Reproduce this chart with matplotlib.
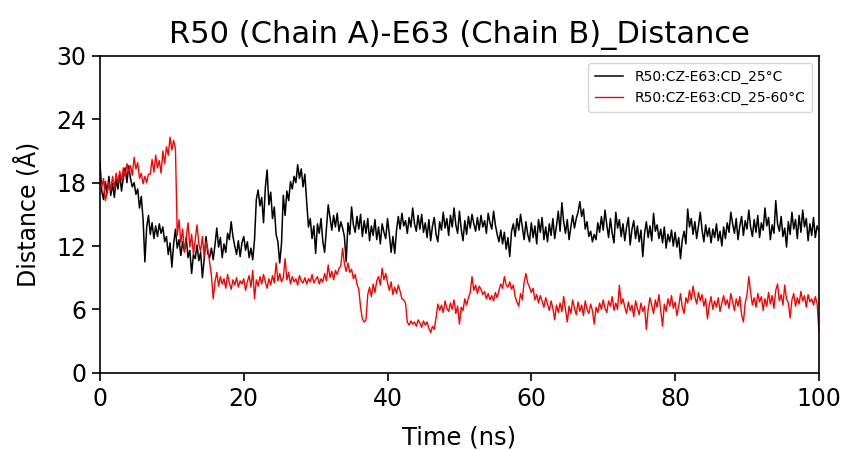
import numpy as np
import matplotlib
matplotlib.use("Agg")
import matplotlib.pyplot as plt

# time axis, one sample every 0.25 ns
time_ns = np.arange(0, 100.01, 0.25)

# R50:CZ - E63:CD distance at 25 C
dist_25 = [
    19.9, 17.2, 16.4, 18.1, 17.0, 18.6, 16.8, 17.9, 16.6, 18.3, 17.4, 18.8, 17.2, 18.5, 19.4, 18.0, 19.6, 18.4, 17.6, 18.0,
    16.9, 17.4, 15.6, 16.7, 14.5, 10.5, 13.8, 14.9, 13.1, 14.2, 12.7, 13.9, 12.9, 14.1, 13.2, 13.8, 12.4, 12.9, 11.2, 12.3,
    10.0, 12.2, 13.6, 11.8, 12.6, 11.1, 12.4, 11.5, 12.8, 10.9, 11.6, 9.4, 11.2, 10.8, 12.1, 10.6, 11.4, 9.0, 10.8, 12.9,
    11.3, 10.9, 11.8, 10.7, 12.1, 13.7, 11.9, 12.8, 10.9, 12.2, 11.4, 13.2, 12.6, 14.3, 12.9, 12.0, 11.2, 12.5, 11.0, 12.3,
    12.9, 11.6, 12.4, 10.9, 11.8, 10.7, 12.6, 16.4, 17.3, 15.8, 16.6, 14.2, 17.5, 19.2, 15.9, 17.1, 14.6, 15.7, 13.1, 12.4,
    10.4, 12.2, 16.8, 14.9, 17.2, 16.3, 18.1, 17.4, 18.6, 18.0, 19.7, 18.4, 19.3, 17.6, 18.8, 16.2, 13.8, 14.6, 12.7, 13.9,
    11.3, 14.1, 13.2, 14.6, 12.4, 11.4, 13.6, 15.9, 14.7, 13.5, 14.9, 13.8, 15.1, 13.4, 14.3, 13.7, 12.9, 10.5, 14.2, 13.1,
    15.7, 14.0, 13.3, 14.8, 13.6, 15.0, 12.9, 14.4, 13.2, 14.6, 12.5, 13.9, 13.0, 14.5, 12.6, 13.8, 12.2, 14.1, 13.3, 12.7,
    14.6, 13.1, 11.4, 12.9, 11.3, 13.5, 14.8, 13.6, 15.1, 13.9, 14.4, 13.2, 14.7, 13.8, 15.6, 14.1, 13.4, 14.9, 13.6, 15.0,
    13.3, 14.2, 12.8, 14.5, 12.5, 13.9, 14.7, 13.1, 12.4, 14.3, 13.5, 15.2, 13.7, 14.6, 13.0, 14.9, 13.8, 15.6, 14.0, 13.2,
    15.3, 13.6, 12.5, 14.4, 13.1, 14.8, 13.7, 15.0, 14.1, 13.4, 14.7, 13.5, 14.9, 13.8, 14.4, 13.2, 15.1, 14.2, 13.6, 15.3,
    14.0, 13.1, 12.4, 13.5, 12.2, 13.3, 11.7, 12.8, 11.0, 13.4, 14.1, 12.9, 14.6, 13.5, 15.0, 13.8, 12.6, 14.3, 13.1, 12.4,
    14.2, 12.8, 13.9, 12.2, 14.5, 13.3, 14.7, 12.6, 13.8, 12.4, 14.1, 13.0, 14.6, 12.7, 13.9, 15.3, 13.4, 16.1, 14.3, 13.2,
    14.5, 12.6, 13.8, 14.9, 13.7, 14.6, 15.2, 16.2, 14.8, 15.5, 13.6, 14.3, 12.9, 13.4, 12.4, 13.1, 12.6, 14.2, 13.3, 14.8,
    13.5, 15.4, 14.0, 12.8, 14.6, 13.2, 12.3, 15.2, 13.7, 14.5, 12.9, 14.1, 12.5, 13.8, 14.7, 12.1, 13.6, 14.4, 12.7, 13.9,
    12.4, 13.5, 11.0, 13.2, 14.3, 12.8, 13.9, 12.5, 15.1, 13.4, 14.0, 12.7, 13.6, 12.3, 13.8, 11.8, 13.1, 12.4, 13.5, 12.0,
    13.3, 11.9, 12.8, 10.8, 12.6, 13.4, 12.2, 15.5, 13.8, 14.6, 13.1, 14.3, 12.7, 13.9, 15.2, 13.5, 12.4, 14.0, 12.9, 13.7,
    12.3, 13.6, 12.8, 14.1, 12.5, 13.4, 12.0, 13.8, 12.7, 14.2, 13.3, 15.2, 14.1, 13.2, 14.6, 12.6, 13.9, 14.8, 13.0, 14.4,
    13.6, 15.4, 13.8, 12.9, 14.5, 13.3, 14.9, 12.8, 14.2, 13.5, 15.6, 13.9, 14.7, 12.6, 14.0, 13.2, 16.3, 14.1, 13.4, 14.8,
    12.9, 13.7, 11.9, 14.3, 13.1, 15.2, 13.6, 14.5, 12.7, 14.9, 13.3, 15.4, 13.8, 14.6, 12.5, 14.1, 13.0, 14.7, 12.8, 13.9,
    13.4,
]

# same pair, heated run 25-60 C
dist_25_60 = [
    18.2, 17.6, 18.4, 16.3, 17.1, 18.0, 17.3, 18.6, 17.5, 18.9, 18.0, 19.1, 18.2, 19.4, 18.6, 19.8, 19.0, 19.6, 18.7, 20.4,
    19.3, 19.9, 18.4, 18.9, 17.9, 18.6, 18.0, 18.8, 18.8, 20.2, 19.0, 20.6, 19.4, 20.1, 18.9, 21.0, 19.8, 21.4, 20.6, 22.3,
    21.1, 22.0, 21.2, 13.0, 14.5, 12.3, 13.6, 11.4, 12.8, 14.2, 11.9, 13.1, 11.2, 12.6, 14.0, 12.2, 11.5, 12.9, 11.0, 12.4,
    11.7, 10.5, 9.2, 7.0, 8.6, 9.5, 8.2, 9.1, 8.4, 8.9, 8.0, 9.3, 8.5, 7.9, 8.8, 8.3, 9.0, 8.1, 8.7, 8.4,
    8.9, 7.8, 8.6, 9.2, 8.1, 9.7, 7.0, 8.8, 8.2, 9.1, 8.4, 9.3, 8.6, 8.0, 8.9, 8.3, 9.2, 8.5, 10.4, 8.7,
    9.4, 8.6, 9.0, 10.8, 8.8, 9.5, 8.4, 9.1, 8.6, 8.9, 8.3, 9.2, 8.7, 8.5, 9.0, 8.4, 8.9, 8.6, 9.3, 8.5,
    8.8, 9.1, 8.4, 8.9, 8.6, 9.4, 8.7, 10.2, 9.0, 9.6, 8.8, 9.7, 9.3, 9.9, 10.1, 11.8, 10.3, 9.6, 10.4, 9.5,
    9.8, 8.9, 9.3, 8.4, 7.9, 6.2, 5.1, 4.8, 5.0, 7.4, 8.1, 7.2, 8.4, 7.6, 8.7, 9.1, 8.3, 9.9, 8.8, 9.4,
    8.5, 7.8, 8.6, 7.4, 8.1, 7.5, 8.3, 7.7, 7.0, 6.9, 6.6, 4.8, 4.5, 4.9, 4.6, 4.8, 4.4, 5.0, 4.7, 4.3,
    4.9, 4.5, 4.8, 4.2, 3.8, 4.4, 4.1, 5.2, 6.5, 5.9, 6.4, 5.7, 6.8, 6.1, 5.8, 6.6, 6.0, 6.9, 5.6, 6.3,
    4.6, 6.2, 5.9, 7.0, 6.4, 7.1, 7.6, 9.1, 7.8, 8.3, 7.5, 8.2, 7.9, 7.4, 7.7, 7.0, 7.5, 6.9, 7.3, 6.8,
    7.6, 7.1, 7.8, 8.4, 8.0, 9.1, 8.3, 8.1, 8.6, 7.9, 8.3, 7.2, 6.7, 6.3, 7.5, 6.9, 8.6, 9.4, 8.5, 8.1,
    7.6, 8.0, 6.9, 7.4, 6.6, 7.3, 6.8, 6.2, 7.1, 6.5, 5.9, 6.8, 6.1, 5.0, 6.4, 5.7, 6.6, 5.8, 7.2, 6.0,
    4.8, 6.3, 5.6, 6.9, 6.1, 5.5, 6.7, 5.8, 6.4, 5.4, 6.8, 6.0, 5.6, 6.5, 5.9, 4.6, 6.2, 5.7, 6.6, 6.0,
    6.9, 6.1, 5.7, 6.8, 6.3, 7.2, 5.9, 6.6, 6.0, 8.3, 6.5, 7.0, 6.2, 5.6, 6.7, 5.9, 6.4, 5.3, 6.8, 6.1,
    5.5, 6.6, 5.8, 6.3, 4.1, 6.0, 7.1, 6.4, 5.6, 6.9, 6.2, 7.4, 5.9, 4.4, 6.5, 5.8, 7.0, 6.3, 7.3, 6.1,
    6.7, 5.4, 6.3, 7.5, 6.2, 5.6, 7.1, 6.6, 7.8, 6.9, 8.2, 7.2, 6.5, 7.6, 6.8, 7.4, 6.3, 7.0, 5.1, 6.4,
    7.2, 6.0, 6.8, 6.2, 7.1, 5.8, 6.6, 7.3, 6.4, 6.9, 6.1, 7.5, 6.7, 5.9, 7.0, 6.3, 7.2, 5.5, 4.8, 6.6,
    7.4, 9.1, 7.6, 6.4, 7.1, 6.2, 7.5, 6.7, 7.2, 5.9, 7.0, 6.3, 7.6, 6.5, 7.3, 6.1, 7.8, 8.4, 6.8, 7.4,
    6.4, 8.3, 7.0, 6.6, 5.2, 6.9, 7.5, 6.3, 7.1, 6.5, 7.7, 6.8, 7.3, 6.2, 7.4, 6.7, 7.0, 6.4, 7.2, 6.6,
    4.0,
]

y_ticks = [0, 6, 12, 18, 24, 30]
x_ticks = [0, 20, 40, 60, 80, 100]

fig = plt.figure(figsize=(8.45, 4.5), dpi=100)
ax = fig.add_axes([0.1183, 0.1718, 0.8508, 0.7038])

ax.plot(time_ns, dist_25, color="black", linewidth=1.1, label="R50:CZ-E63:CD_25°C")
ax.plot(time_ns, dist_25_60, color="red", linewidth=1.0, label="R50:CZ-E63:CD_25-60°C")

ax.set_xlim(0, 100)
ax.set_ylim(0, 30)
ax.set_xticks(x_ticks)
ax.set_yticks(y_ticks)
ax.tick_params(labelsize=17, length=6, width=1.2, pad=4)
for s in ax.spines.values():
    s.set_linewidth(1.2)

ax.set_xlabel("Time (ns)", fontsize=17.5, labelpad=11)
ax.set_ylabel("Distance (Å)", fontsize=17, labelpad=11)
ax.set_title("R50 (Chain A)-E63 (Chain B)_Distance", fontsize=22, pad=9)

ax.legend(loc="upper right", fontsize=10, frameon=True, handlelength=2.0, borderpad=0.5)

fig.savefig("out.png", dpi=100)
